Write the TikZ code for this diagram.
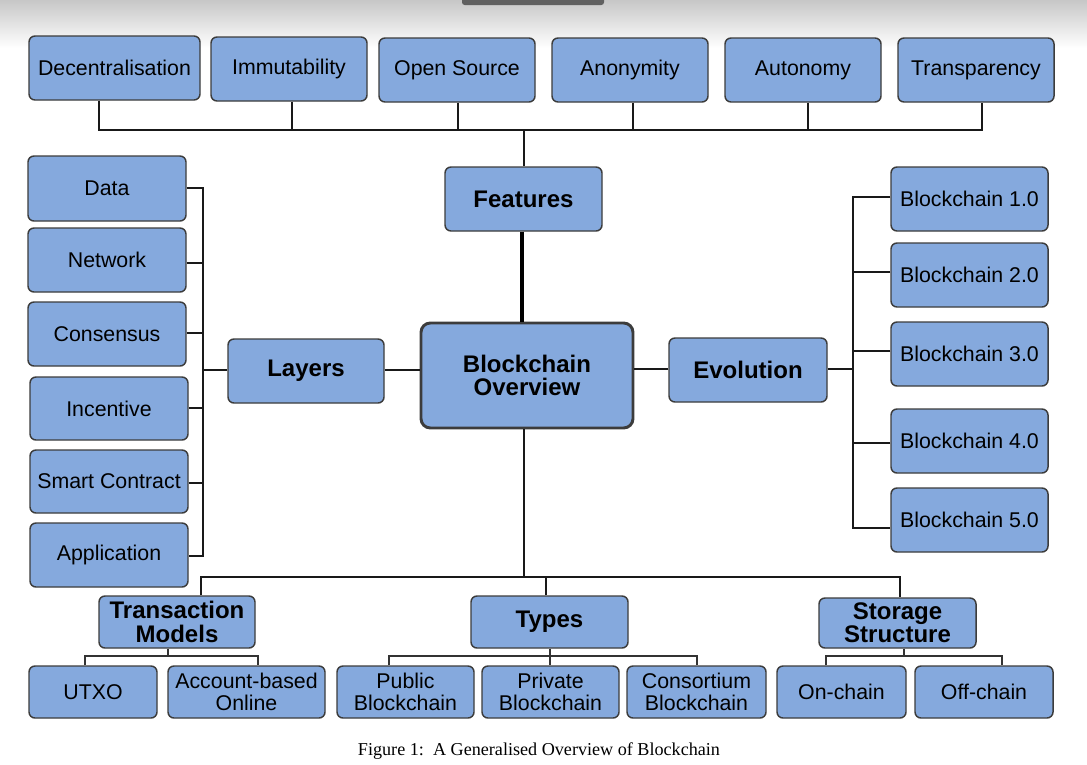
\documentclass[tikz,border=0pt]{standalone}
\usepackage{fontspec}
\setmainfont{Liberation Sans}
\newfontfamily\capfont{Liberation Serif}
\definecolor{boxfill}{HTML}{85A9DD}
\definecolor{boxline}{HTML}{3C3C3C}
\definecolor{tabgray}{HTML}{606060}
\newcommand\bnode[7]{\node[#7, minimum width={(#4-#2)*0.75pt}, minimum height={(#5-#3)*0.75pt}] (#1) at ({(#2+#4)/2},{(#3+#5)/2}) {#6};}
\tikzset{
  box/.style={draw=boxline, fill=boxfill, rounded corners=4.5pt, line width=1.1pt, inner sep=0pt, align=center,
    font=\fontsize{16}{16}\selectfont},
  bbox/.style={box, font=\bfseries\fontsize{18}{17.5}\selectfont},
  obox/.style={bbox, line width=2.2pt, rounded corners=7pt},
  conn/.style={draw=black!90, line width=1.2pt},
  thick conn/.style={draw=black, line width=2.4pt},
  sub conn/.style={draw=black!80, line width=1.1pt}
}
\begin{document}
\begin{tikzpicture}[x=0.75pt, y=-0.75pt]
\useasboundingbox (0,0) rectangle (1087,764);
\fill[white] (0,0) rectangle (1087,764);
\shade[top color=black!22, bottom color=white] (0,0) rectangle (1087,48);
\fill[tabgray, rounded corners=2pt] (462,-6) rectangle (604,5);

% top features row
\bnode{dec}{29}{36}{200}{100}{Decentralisation}{box}
\bnode{imm}{211}{37}{367}{101}{Immutability}{box}
\bnode{ops}{379}{38}{535}{102}{Open Source}{box}
\bnode{ano}{552}{38}{708}{102}{Anonymity}{box}
\bnode{aut}{725}{38}{881}{102}{Autonomy}{box}
\bnode{tra}{898}{38}{1054}{102}{Transparency}{box}

% centre
\bnode{feat}{445}{167}{602}{231}{Features}{bbox}
\bnode{ovr}{421}{323}{633}{428}{Blockchain\\Overview}{obox}
\bnode{lay}{228}{339}{384}{403}{Layers}{bbox}
\bnode{evo}{669}{338}{827}{402}{Evolution}{bbox}

% layers
\bnode{data}{28}{156}{186}{221}{Data}{box}
\bnode{net}{28}{228}{186}{292}{Network}{box}
\bnode{con}{28}{302}{186}{366}{Consensus}{box}
\bnode{inc}{30}{377}{188}{440}{Incentive}{box}
\bnode{sc}{30}{450}{188}{513}{Smart Contract}{box}
\bnode{app}{30}{523}{188}{587}{Application}{box}

% evolution
\bnode{b1}{891}{167}{1048}{231}{Blockchain 1.0}{box}
\bnode{b2}{891}{243}{1048}{307}{Blockchain 2.0}{box}
\bnode{b3}{891}{322}{1048}{386}{Blockchain 3.0}{box}
\bnode{b4}{891}{409}{1048}{473}{Blockchain 4.0}{box}
\bnode{b5}{891}{488}{1048}{552}{Blockchain 5.0}{box}

% bottom groups
\bnode{tm}{99}{596}{255}{648}{Transaction\\Models}{bbox}
\bnode{typ}{471}{596}{628}{648}{Types}{bbox}
\bnode{sto}{819}{598}{976}{648}{Storage\\Structure}{bbox}

\bnode{utxo}{29}{666}{157}{718}{UTXO}{box}
\bnode{acc}{168}{666}{325}{718}{Account-based\\Online}{box}
\bnode{pub}{337}{666}{474}{718}{Public\\Blockchain}{box}
\bnode{pri}{482}{666}{619}{718}{Private\\Blockchain}{box}
\bnode{cons}{627}{666}{766}{718}{Consortium\\Blockchain}{box}
\bnode{onc}{777}{666}{906}{718}{On-chain}{box}
\bnode{offc}{915}{666}{1053}{718}{Off-chain}{box}

\node[font=\capfont\fontsize{13.6}{15}\selectfont, inner sep=0pt] (cap) at (539,751) {Figure 1:\ \ A Generalised Overview of Blockchain};

% ---- connectors: features
\coordinate (fbl) at (99,130);
\coordinate (fbr) at (982,130);
\draw[conn] (dec.south -| fbl) -- (fbl) -- (fbr) -- (tra.south -| fbr);
\draw[conn] (imm.south -| 292,0) -- (292,130);
\draw[conn] (ops.south -| 458,0) -- (458,130);
\draw[conn] (ano.south -| 633,0) -- (633,130);
\draw[conn] (aut.south -| 808,0) -- (808,130);
\draw[conn] (feat.north -| 524,0) -- (524,130);
\draw[thick conn] (feat.south -| 522,0) -- (ovr.north -| 522,0);

% ---- layers
\coordinate (lbt) at (203,188);
\coordinate (lbb) at (203,556);
\draw[conn] (data.east |- lbt) -- (lbt) -- (lbb) -- (app.east |- lbb);
\draw[conn] (net.east |- 0,263) -- (203,263);
\draw[conn] (con.east |- 0,333) -- (203,333);
\draw[conn] (inc.east |- 0,408) -- (203,408);
\draw[conn] (sc.east |- 0,483) -- (203,483);
\draw[conn] (lay.west |- 0,370) -- (203,370);
\draw[conn] (lay.east |- 0,370) -- (ovr.west |- 0,370);

% ---- evolution
\coordinate (ebt) at (853,197);
\coordinate (ebb) at (853,528);
\draw[conn] (b1.west |- ebt) -- (ebt) -- (ebb) -- (b5.west |- ebb);
\draw[conn] (b2.west |- 0,272) -- (853,272);
\draw[conn] (b3.west |- 0,351) -- (853,351);
\draw[conn] (b4.west |- 0,443) -- (853,443);
\draw[conn] (evo.west |- 0,369) -- (ovr.east |- 0,369);
\draw[conn] (evo.east |- 0,369) -- (853,369);

% ---- bottom
\coordinate (bbl) at (201,577);
\coordinate (bbr) at (900,577);
\draw[conn, line width=1.6pt] (ovr.south -| 524,0) -- (524,577);
\draw[conn, line width=1.6pt] (tm.north -| bbl) -- (bbl) -- (bbr) -- (sto.north -| bbr);
\draw[conn, line width=1.6pt] (typ.north -| 546,0) -- (546,577);

\draw[sub conn] (tm.south -| 168,0) -- (168,656);
\draw[sub conn] (utxo.north -| 85,0) -- (85,656) -- (258,656) -- (acc.north -| 258,0);
\draw[sub conn] (typ.south -| 550,0) -- (pri.north -| 550,0);
\draw[sub conn] (pub.north -| 389,0) -- (389,656) -- (697,656) -- (cons.north -| 697,0);
\draw[sub conn] (sto.south -| 904,0) -- (904,656);
\draw[sub conn] (onc.north -| 826,0) -- (826,656) -- (1002,656) -- (offc.north -| 1002,0);
\end{tikzpicture}
\end{document}
